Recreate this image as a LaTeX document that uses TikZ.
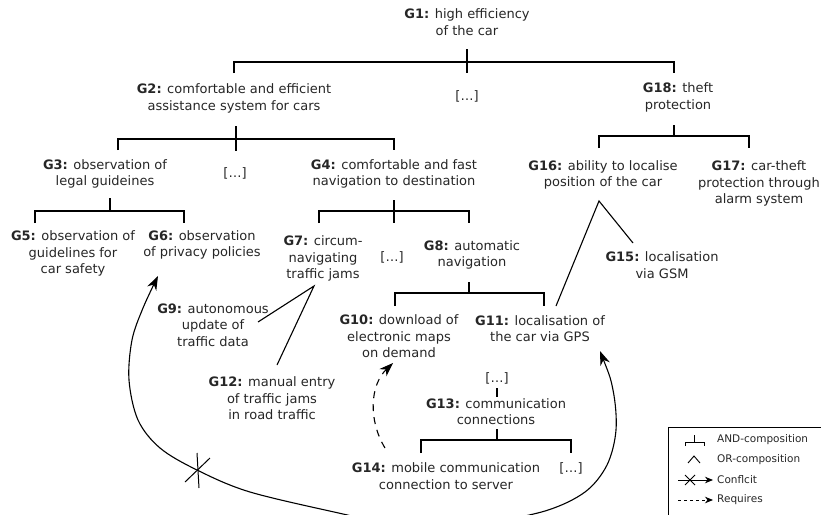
\documentclass[tikz,border=0pt]{standalone}
\usepackage{fontspec}
\setmainfont{DejaVu Sans}
\usetikzlibrary{arrows.meta}
\begin{document}
\begin{tikzpicture}[x=1pt,y=-1pt,
  goal/.style={align=center, inner sep=0pt, text=black!85, font=\fontsize{13}{16.5}\selectfont},
  legtext/.style={anchor=west, inner sep=0pt, text=black!85, font=\fontsize{10.5}{12}\selectfont},
  tree/.style={line width=1.1pt},
  orline/.style={line width=1.1pt},
  bigtip/.tip={Stealth[length=14pt,width=10pt,inset=4.5pt]},
  smalltip/.tip={Stealth[length=8pt,width=6.5pt,inset=2.5pt]},
  conflict/.style={line width=1.1pt, bigtip-bigtip},
  requires/.style={line width=1.1pt, dash pattern=on 7pt off 6pt, -bigtip},
  legline/.style={line width=0.9pt}
]
\useasboundingbox (0,0) rectangle (821,514);

% goals
\node[goal] (g1) at (467,22) {\textbf{G1:} high efficiency\\of the car};
\node[goal] (d1) at (467,96) {[…]};
\node[goal] (g2) at (234,98.5) {\textbf{G2:} comfortable and efficient\\assistance system for cars};
\node[goal] (g18) at (678,97.5) {\textbf{G18:} theft\\protection};
\node[goal] (g3) at (105,174) {\textbf{G3:} observation of\\legal guideines};
\node[goal] (d2) at (235,173) {[…]};
\node[goal] (g4) at (394,174) {\textbf{G4:} comfortable and fast\\navigation to destination};
\node[goal] (g16) at (603,175) {\textbf{G16:} ability to localise\\position of the car};
\node[goal] (g17) at (759,183.5) {\textbf{G17:} car-theft\\protection through\\alarm system};
\node[goal] (g5) at (73,253.5) {\textbf{G5:} observation of\\guidelines for\\car safety};
\node[goal] (g6) at (202,245) {\textbf{G6:} observation\\of privacy policies};
\node[goal] (g7) at (323,258.5) {\textbf{G7:} circum-\\navigating\\traffic jams};
\node[goal] (d3) at (392,257) {[…]};
\node[goal] (g8) at (472,255) {\textbf{G8:} automatic\\navigation};
\node[goal] (g15) at (662,265) {\textbf{G15:} localisation\\via GSM};
\node[goal] (g9) at (213,325) {\textbf{G9:} autonomous\\update of\\traffic data};
\node[goal] (g10) at (399,336.5) {\textbf{G10:} download of\\electronic maps\\on demand};
\node[goal] (g11) at (540,328.5) {\textbf{G11:} localisation of\\the car via GPS};
\node[goal] (g12) at (272,398.5) {\textbf{G12:} manual entry\\of traffic jams\\in road traffic};
\node[goal] (d4) at (497,378) {[…]};
\node[goal] (g13) at (496,411.5) {\textbf{G13:} communication\\connections};
\node[goal] (g14) at (446,476) {\textbf{G14:} mobile communication\\connection to server};
\node[goal] (d5) at (571,468) {[…]};

% AND-compositions
\draw[tree] (g1 |- 0,49) -- (g1 |- 0,73);
\draw[tree] (234,73) |- (674,62) -- (674,73);
\draw[tree] (236,126) -- (236,151);
\draw[tree] (118,150) |- (394,139) -- (394,150);
\draw[tree] (g18 |- 0,125) ++(-4,0) -- ++(0,11);
\draw[tree] (599,148) |- (749,136) -- (749,148);
\draw[tree] (110,198) -- (110,211);
\draw[tree] (35,223) |- (184,211) -- (184,223);
\draw[tree] (g4 |- 0,200) -- (g4 |- 0,223);
\draw[tree] (319,223) |- (469,211) -- (469,223);
\draw[tree] (469,282) -- (469,293);
\draw[tree] (395,306) |- (544,293) -- (544,306);
\draw[tree] (d4 |- 0,388) -- (d4 |- 0,397);
\draw[tree] (497,429) -- (497,440);
\draw[tree] (421,453) |- (571,440) -- (571,453);

% OR-compositions
\coordinate (or16) at (599,201);
\coordinate (or7) at (314,286);
\draw[orline] (556,306) -- (or16) -- (633,243);
\draw[orline] (258,322) -- (or7) -- (277,365);

% requires: G14 needs G10
\draw[requires] (385,448) .. controls (368,420) and (370,385) .. (393,363);

% conflict between G11 and G6
\draw[conflict] plot[smooth, tension=0.55] coordinates {
  (600,351) (613,390) (616,430) (607,465) (585,492) (545,511) (480,524)
  (437,527) (390,524) (343,514) (250,492) (197,470) (160,448) (138,420)
  (129,380) (132,340) (143,308) (158,276)};
\draw[line width=1pt] (185,482) -- (210,458);
\draw[line width=1pt] (197,453) -- (199,488);

% legend
\draw[line width=0.8pt] (668,530) -- (668,427) -- (830,427);
\draw[legline] (694.5,435) -- (694.5,442);
\draw[legline] (685,446) |- (704,442) -- (704,446);
\draw[legline] (688,463) -- (694,456) -- (700,463);
\draw[legline, -smalltip] (678,480) -- (713,480);
\draw[legline] (685,475) -- (695,485);
\draw[legline] (685,485) -- (695,475);
\draw[legline, dash pattern=on 3pt off 3pt, -smalltip] (678,500) -- (713,500);
\node[legtext] (l1) at (717,440) {AND-composition};
\node[legtext] (l2) at (717,460) {OR-composition};
\node[legtext] (l3) at (717,480) {Conflcit};
\node[legtext] (l4) at (717,500) {Requires};
\end{tikzpicture}
\end{document}
